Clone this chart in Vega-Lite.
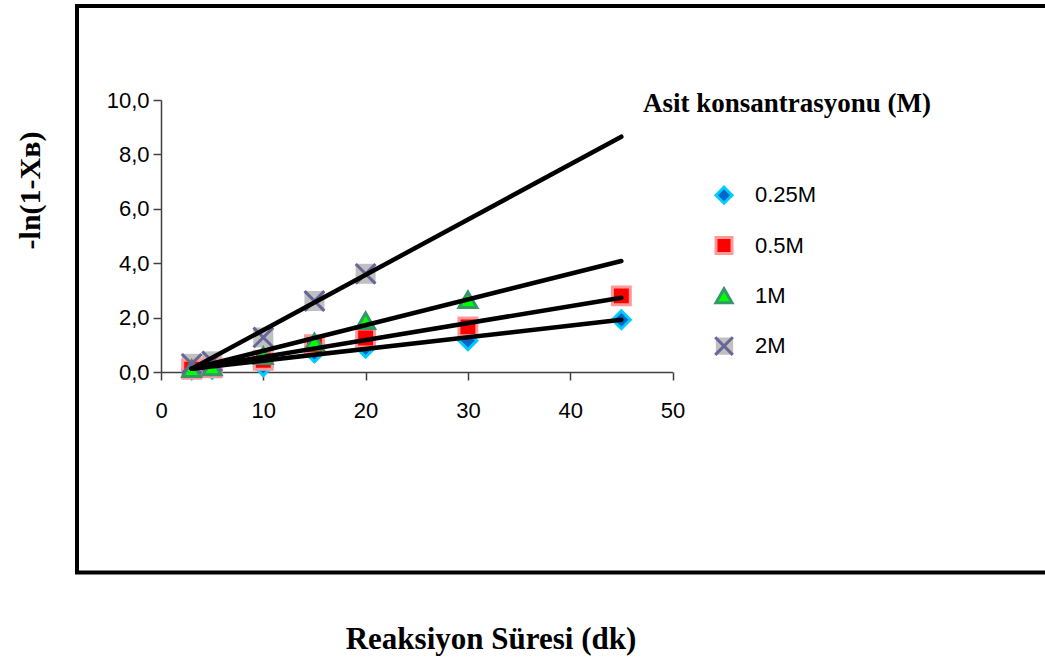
{
  "$schema": "https://vega.github.io/schema/vega-lite/v6.json",
  "width": 974,
  "height": 566.5,
  "autosize": {"type": "none"},
  "padding": {"left": 77, "top": 6, "right": -6, "bottom": 89.5},
  "background": "white",
  "config": {
    "view": {"stroke": "black", "strokeWidth": 4},
    "axis": {
      "grid": false,
      "domainColor": "#404040",
      "domainWidth": 1.5,
      "tickColor": "#404040",
      "tickWidth": 1.5,
      "tickSize": 8,
      "labelFlush": false,
      "labelFont": "Liberation Sans",
      "labelFontSize": 22,
      "labelColor": "black",
      "titleFont": "Liberation Serif",
      "titleFontWeight": "bold",
      "titleColor": "black"
    },
    "legend": {
      "padding": 0,
      "titleFont": "Liberation Serif",
      "titleFontSize": 27,
      "titleFontWeight": "bold",
      "titleLimit": 500,
      "titlePadding": 64.7,
      "labelFont": "Liberation Sans",
      "labelFontSize": 22,
      "labelLimit": 300,
      "clipHeight": 26,
      "rowPadding": 24.3
    }
  },
  "datasets": {
    "olcum": [
      {"Seri": "0.25M", "t": 3, "y": 0.08},
      {"Seri": "0.25M", "t": 5, "y": 0.1},
      {"Seri": "0.25M", "t": 10, "y": 0.2},
      {"Seri": "0.25M", "t": 15, "y": 0.7},
      {"Seri": "0.25M", "t": 20, "y": 0.88},
      {"Seri": "0.25M", "t": 30, "y": 1.15},
      {"Seri": "0.25M", "t": 45, "y": 1.92},
      {"Seri": "0.5M", "t": 3, "y": 0.1},
      {"Seri": "0.5M", "t": 5, "y": 0.15},
      {"Seri": "0.5M", "t": 10, "y": 0.43},
      {"Seri": "0.5M", "t": 15, "y": 1.0},
      {"Seri": "0.5M", "t": 20, "y": 1.25},
      {"Seri": "0.5M", "t": 30, "y": 1.66},
      {"Seri": "0.5M", "t": 45, "y": 2.8},
      {"Seri": "1M", "t": 3, "y": 0.12},
      {"Seri": "1M", "t": 5, "y": 0.18},
      {"Seri": "1M", "t": 10, "y": 0.6},
      {"Seri": "1M", "t": 15, "y": 1.1},
      {"Seri": "1M", "t": 20, "y": 1.88},
      {"Seri": "1M", "t": 30, "y": 2.66},
      {"Seri": "2M", "t": 3, "y": 0.3},
      {"Seri": "2M", "t": 5, "y": 0.39},
      {"Seri": "2M", "t": 10, "y": 1.27},
      {"Seri": "2M", "t": 15, "y": 2.61},
      {"Seri": "2M", "t": 20, "y": 3.61}
    ],
    "dogru": [
      {"Seri": "0.25M", "t": 3, "y": 0.12},
      {"Seri": "0.25M", "t": 45, "y": 1.92},
      {"Seri": "0.5M", "t": 3, "y": 0.12},
      {"Seri": "0.5M", "t": 45, "y": 2.73},
      {"Seri": "1M", "t": 3, "y": 0.12},
      {"Seri": "1M", "t": 45, "y": 4.08},
      {"Seri": "2M", "t": 3, "y": 0.12},
      {"Seri": "2M", "t": 45, "y": 8.65}
    ]
  },
  "encoding": {
    "x": {
      "field": "t",
      "type": "quantitative",
      "scale": {"domain": [0, 50], "range": [84, 595.5], "nice": false, "zero": false},
      "axis": {
        "orient": "bottom",
        "offset": -200.5,
        "values": [0, 10, 20, 30, 40, 50],
        "labelPadding": 20,
        "title": "Reaksiyon Süresi (dk)",
        "titleFontSize": 31,
        "titleX": 413.5,
        "titleY": 276,
        "titleAlign": "center",
        "titleBaseline": "alphabetic"
      }
    },
    "y": {
      "field": "y",
      "type": "quantitative",
      "scale": {"domain": [0, 10], "range": [366, 94], "nice": false, "zero": false},
      "axis": {
        "orient": "left",
        "offset": -84,
        "values": [0, 2, 4, 6, 8, 10],
        "labelExpr": "replace(format(datum.value, '.1f'), '.', ',')",
        "labelPadding": 4,
        "title": "-ln(1-Xʙ)",
        "titleFontSize": 30,
        "titleAngle": 270,
        "titleX": -122,
        "titleY": 184,
        "titleAlign": "center",
        "titleBaseline": "alphabetic"
      }
    }
  },
  "layer": [
    {
      "data": {"name": "olcum"},
      "transform": [{"filter": "datum.Seri === '2M'"}],
      "mark": {"type": "point", "shape": "square", "filled": true, "size": 400, "opacity": 1, "strokeWidth": 0},
      "encoding": {
        "fill": {
          "field": "Seri",
          "type": "nominal",
          "scale": {"domain": ["0.25M", "0.5M", "1M", "2M"], "range": ["transparent", "transparent", "transparent", "#C0C0C0"]},
          "legend": {
            "title": "Asit konsantrasyonu (M)",
            "orient": "none",
            "legendX": 566,
            "legendY": 84.5,
            "titleColor": "transparent",
            "labelColor": "transparent",
            "symbolType": "square",
            "symbolSize": 300,
            "symbolStrokeWidth": 0,
            "symbolOffset": 70.5,
            "labelOffset": 20,
            "zindex": 1
          }
        }
      }
    },
    {
      "data": {"name": "olcum"},
      "mark": {"type": "point", "filled": true, "size": 320, "opacity": 1, "strokeWidth": 3},
      "encoding": {
        "color": {
          "field": "Seri",
          "type": "nominal",
          "scale": {"range": ["#0066CC", "#FF0000", "#00FF00", "transparent"]},
          "legend": {
            "title": "Asit konsantrasyonu (M)",
            "orient": "none",
            "legendX": 566,
            "legendY": 84.5,
            "titleColor": "black",
            "labelColor": "black",
            "symbolSize": 256,
            "symbolStrokeWidth": 3,
            "symbolOffset": 70,
            "labelOffset": 20,
            "zindex": 2
          }
        },
        "stroke": {
          "field": "Seri",
          "type": "nominal",
          "scale": {"range": ["#00CCFF", "#FF9999", "#339966", "#666699"]},
          "legend": {
            "title": "Asit konsantrasyonu (M)",
            "orient": "none",
            "legendX": 566,
            "legendY": 84.5,
            "zindex": 2
          }
        },
        "shape": {
          "field": "Seri",
          "type": "nominal",
          "scale": {"range": ["diamond", "square", "triangle-up", "M-1.1,-1.1L1.1,1.1M1.1,-1.1L-1.1,1.1"]},
          "legend": {
            "title": "Asit konsantrasyonu (M)",
            "orient": "none",
            "legendX": 566,
            "legendY": 84.5,
            "zindex": 2
          }
        }
      }
    },
    {
      "data": {"name": "dogru"},
      "mark": {"type": "line", "color": "black", "strokeWidth": 4.5, "strokeCap": "round"},
      "encoding": {
        "detail": {"field": "Seri", "type": "nominal"}
      }
    }
  ]
}
